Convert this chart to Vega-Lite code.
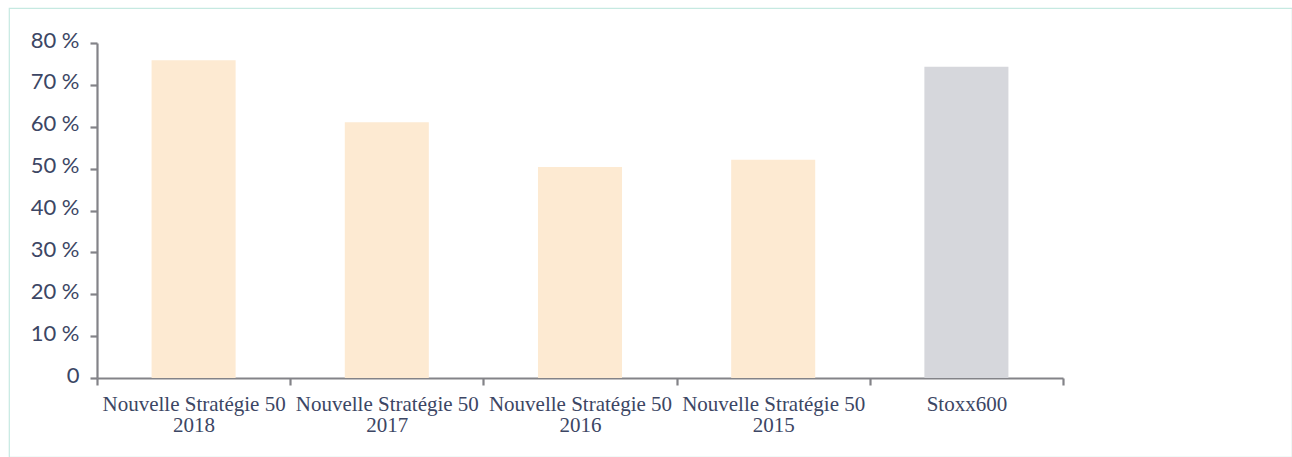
{
  "$schema": "https://vega.github.io/schema/vega-lite/v6.json",
  "width": 1283,
  "height": 449,
  "autosize": {"type": "none"},
  "padding": {"left": 9, "top": 8, "right": 0, "bottom": 0},
  "background": "#ffffff",
  "config": {
    "view": {"stroke": "#c6e9e1", "strokeWidth": 1.2}
  },
  "data": {
    "values": [
      {"categorie": "Nouvelle Stratégie 50 2018", "valeur": 75.9, "groupe": "NS50"},
      {"categorie": "Nouvelle Stratégie 50 2017", "valeur": 61.1, "groupe": "NS50"},
      {"categorie": "Nouvelle Stratégie 50 2016", "valeur": 50.4, "groupe": "NS50"},
      {"categorie": "Nouvelle Stratégie 50 2015", "valeur": 52.1, "groupe": "NS50"},
      {"categorie": "Stoxx600", "valeur": 74.3, "groupe": "Stoxx"}
    ]
  },
  "mark": {"type": "bar", "width": {"band": 0.435}},
  "encoding": {
    "x": {
      "field": "categorie",
      "type": "nominal",
      "sort": null,
      "scale": {"range": [88, 1054], "paddingInner": 0, "paddingOuter": 0},
      "axis": {
        "title": null,
        "offset": -79,
        "tickBand": "extent",
        "labelAngle": 0,
        "labelExpr": "datum.extra ? '' : (datum.label == 'Stoxx600' ? datum.label : ['Nouvelle Stratégie 50', slice(datum.label, -4)])",
        "labelFont": "Liberation Serif",
        "labelFontSize": 21,
        "labelLineHeight": 21,
        "labelLimit": 0,
        "labelColor": "#3c4664",
        "labelBaseline": "top",
        "labelPadding": 8,
        "labelOverlap": false,
        "labelBound": false,
        "domainColor": "#838388",
        "domainWidth": 2.2,
        "tickColor": "#838388",
        "tickWidth": 2.2,
        "tickSize": 7
      }
    },
    "y": {
      "field": "valeur",
      "type": "quantitative",
      "scale": {"domain": [0, 80], "range": [370, 35], "nice": false, "zero": true},
      "axis": {
        "title": null,
        "offset": -88,
        "values": [0, 10, 20, 30, 40, 50, 60, 70, 80],
        "labelExpr": "datum.value == 0 ? '0' : datum.value + ' %'",
        "labelFont": "Lato",
        "labelFontSize": 22,
        "labelColor": "#3c4664",
        "labelPadding": 11,
        "labelOffset": -3,
        "labelBound": false,
        "labelOverlap": false,
        "grid": false,
        "domainColor": "#838388",
        "domainWidth": 2.2,
        "tickColor": "#838388",
        "tickWidth": 2.2,
        "tickSize": 7
      }
    },
    "color": {
      "field": "groupe",
      "type": "nominal",
      "scale": {"domain": ["NS50", "Stoxx"], "range": ["#fdead2", "#d6d7dc"]},
      "legend": null
    }
  }
}
